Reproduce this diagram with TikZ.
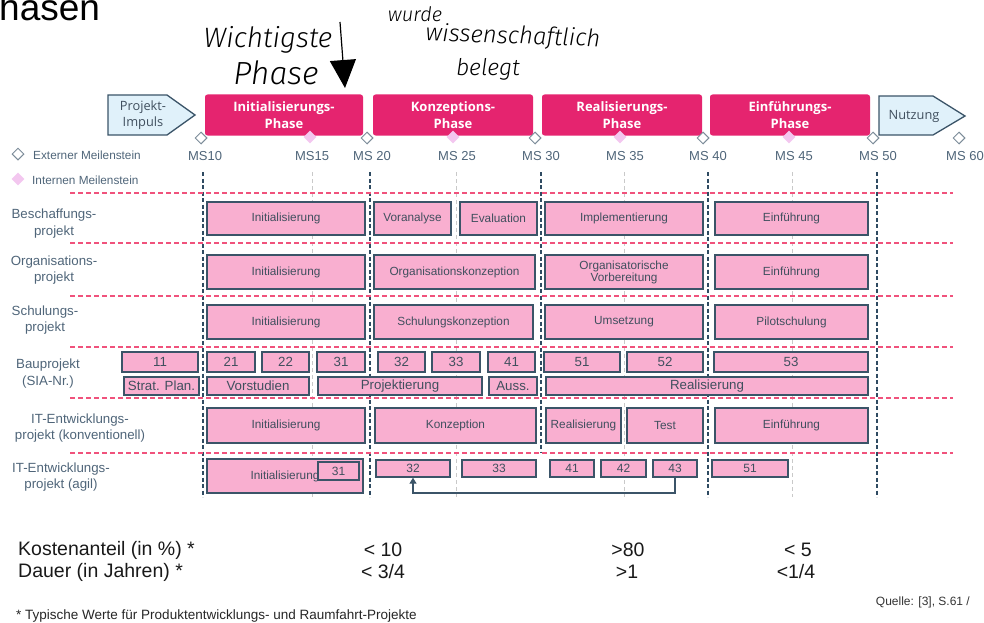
\documentclass[tikz,border=0pt]{standalone}
\usepackage{fontspec}
\setmainfont{Liberation Sans}
\newfontfamily\uifont{Open Sans}
\newfontfamily\handfont{Fira Sans Light}
\usetikzlibrary{shapes.geometric, arrows.meta, calc}

\definecolor{phasepink}{HTML}{E5246F}
\definecolor{boxpink}{HTML}{F9AFD0}
\definecolor{boxline}{HTML}{3B5468}
\definecolor{txt}{HTML}{404F5E}
\definecolor{lbl}{HTML}{4F6579}
\definecolor{rowline}{HTML}{F0527C}
\definecolor{msline}{HTML}{2F4B62}
\definecolor{msgrey}{HTML}{C9C9C9}
\definecolor{impulsfill}{HTML}{E0F1FA}
\definecolor{intms}{HTML}{F3C7EF}
\definecolor{extms}{HTML}{7C8C99}

% box given by its corners: [style] name x1 y1 x2 y2 text
\newcommand\pbox[7][]{%
  \node[box,#1,minimum width={(#5-#3)*1pt},minimum height={(#6-#4)*1pt}]
    (#2) at ({(#3+#5)/2},{(#4+#6)/2}) {#7};}

\tikzset{
  box/.style={draw=boxline, fill=boxpink, line width=1.4pt, inner sep=0.5pt,
    text=txt, align=center, font=\fontsize{11.8}{13}\selectfont},
  baubox/.style={font=\fontsize{13.3}{15}\selectfont},
  agilebox/.style={font=\fontsize{12}{14}\selectfont},
  phase/.style={fill=phasepink, rounded corners=2.5pt, text=white, align=center,
    font=\uifont\bfseries\fontsize{13}{17}\selectfont},
  impuls/.style={draw=boxline, fill=impulsfill, line width=1.3pt, line join=miter},
  uitext/.style={text=txt, align=center, inner sep=0, font=\uifont\fontsize{12.8}{16}\selectfont},
  extmile/.style={diamond, draw=extms, fill=white, line width=1pt, minimum size=12pt, inner sep=0},
  intmile/.style={diamond, fill=intms, minimum size=13pt, inner sep=0},
  mslabel/.style={text=lbl, inner sep=0, font=\fontsize{13}{15}\selectfont},
  legend/.style={text=lbl, inner sep=0, anchor=west, font=\fontsize{11.8}{14}\selectfont},
  rowlabel/.style={text=lbl, inner sep=0, align=center, font=\fontsize{13.3}{16.5}\selectfont},
  msdark/.style={draw=msline, line width=1.3pt, dash pattern=on 4pt off 2.5pt},
  mslight/.style={draw=msgrey, line width=1pt, dash pattern=on 4pt off 3pt},
  rowsep/.style={draw=rowline, line width=1.3pt, dash pattern=on 5pt off 3pt},
  conn/.style={draw=boxline, line width=1.3pt},
  figure/.style={text=black!90, inner sep=0, font=\fontsize{19.5}{22}\selectfont},
  hand/.style={text=black, inner sep=0, font=\handfont\itshape\fontsize{26}{28}\selectfont},
}

\begin{document}
\begin{tikzpicture}[x=1pt, y=-1pt]
\useasboundingbox (0,0) rectangle (984,623);

% title (cut at the page edge)
\node[anchor=base west, inner sep=0, font=\fontsize{37}{40}\selectfont] (title) at (-1,21) {hasen};

% handwritten notes
\node[hand, font=\handfont\itshape\fontsize{28}{30}\selectfont] (hw1) at (268,40) {Wichtigste};
\node[hand, font=\handfont\itshape\fontsize{32}{34}\selectfont] (hw2) at (276,73) {Phase};
\node[hand, font=\handfont\itshape\fontsize{20}{22}\selectfont] (hw3) at (415,14) {wurde};
\node[hand, font=\handfont\itshape\fontsize{24}{26}\selectfont, rotate=-2] (hw4) at (513,37) {wissenschaftlich};
\node[hand, font=\handfont\itshape\fontsize{23}{25}\selectfont] (hw5) at (488,69) {belegt};
\coordinate (hwtop) at (340,22);
\coordinate (hwtip) at (345,88);
\draw[line width=1.2pt, -{Triangle[width=26pt,length=28pt]}] (hwtop) -- (hwtip);

% milestone grid lines
\foreach \x in {203,370,708,877} \draw[msdark] (\x,172) -- (\x,497);
\draw[msdark] (541,172) -- (541,452);
\foreach \x in {312,456,624,792} \draw[mslight] (\x,172) -- (\x,497);

% row separators
\foreach \y in {193,243,296,347,398,453} \draw[rowsep] (70,\y) -- (953,\y);

% phase bar
\draw[impuls] (108,95) -- (167,95) -- (195,115) -- (167,135) -- (108,135) -- cycle;
\node[uitext] (impuls) at (143,115) {Projekt-\\Impuls};
\node[phase, minimum width=158pt, minimum height=41pt] (p1) at (284,115) {Initialisierungs-\\Phase};
\node[phase, minimum width=160pt, minimum height=41pt] (p2) at (453,115) {Konzeptions-\\Phase};
\node[phase, minimum width=160pt, minimum height=41pt] (p3) at (622,115) {Realisierungs-\\Phase};
\node[phase, minimum width=160pt, minimum height=41pt] (p4) at (790,115) {Einführungs-\\Phase};
\draw[impuls] (879,96) -- (933,96) -- (965,116) -- (933,135) -- (879,135) -- cycle;
\node[uitext] (nutzung) at (914,116) {Nutzung};

% milestones
\node[extmile] (m10) at (201,138) {};
\node[extmile] (m20) at (367,138) {};
\node[extmile] (m30) at (535,138) {};
\node[extmile] (m40) at (703,138) {};
\node[extmile] (m50) at (873,138) {};
\node[extmile] (m60) at (959,138) {};
\node[intmile] (m15) at (310,137) {};
\node[intmile] (m25) at (453,137) {};
\node[intmile] (m35) at (620,137) {};
\node[intmile] (m45) at (789,137) {};
\node[mslabel] (l10) at (205,156) {MS10};
\node[mslabel] (l15) at (312,156) {MS15};
\node[mslabel] (l20) at (372,156) {MS 20};
\node[mslabel] (l25) at (457,156) {MS 25};
\node[mslabel] (l30) at (541,156) {MS 30};
\node[mslabel] (l35) at (625,156) {MS 35};
\node[mslabel] (l40) at (708,156) {MS 40};
\node[mslabel] (l45) at (794,156) {MS 45};
\node[mslabel] (l50) at (878,156) {MS 50};
\node[mslabel] (l60) at (965,156) {MS 60};

% legend
\node[extmile] (lgext) at (18,154) {};
\node[legend] (lgexttxt) at (33,155) {Externer Meilenstein};
\node[intmile] (lgint) at (18,179) {};
\node[legend] (lginttxt) at (32,180) {Internen Meilenstein};

% row labels
\node[rowlabel] (r1) at (54,223.5) {Beschaffungs-\\projekt};
\node[rowlabel] (r2) at (54,270) {Organisations-\\projekt};
\node[rowlabel] (r3) at (45,320) {Schulungs-\\projekt};
\node[rowlabel] (r4) at (48,373.5) {Bauprojekt\\(SIA-Nr.)};
\node[rowlabel] (r5) at (80,428) {IT-Entwicklungs-\\projekt (konventionell)};
\node[rowlabel] (r6) at (61,477) {IT-Entwicklungs-\\projekt (agil)};

% Beschaffungsprojekt
\pbox{b1}{207}{202}{365}{235}{Initialisierung}
\pbox{b2}{374}{202}{451}{235}{Voranalyse}
\pbox{b3}{460}{202}{537}{235}{Evaluation}
\pbox{b4}{545}{202}{703}{235}{Implementierung}
\pbox{b5}{715}{202}{868}{235}{Einführung}

% Organisationsprojekt
\pbox{o1}{207}{255}{365}{289}{Initialisierung}
\pbox{o2}{374}{255}{535}{289}{Organisationskonzeption}
\pbox{o3}{545}{255}{703}{289}{Organisatorische\\[-1pt]Vorbereitung}
\pbox{o4}{715}{255}{868}{289}{Einführung}

% Schulungsprojekt
\pbox{s1}{207}{305}{365}{339}{Initialisierung}
\pbox{s2}{374}{305}{533}{339}{Schulungskonzeption}
\pbox{s3}{545}{305}{703}{339}{Umsetzung}
\pbox{s4}{715}{305}{868}{339}{Pilotschulung}

% Bauprojekt, SIA numbers
\pbox[baubox]{n11}{122}{352}{198}{372}{11}
\pbox[baubox]{n21}{207}{352}{255}{372}{21}
\pbox[baubox]{n22}{262}{352}{309}{372}{22}
\pbox[baubox]{n31}{317}{352}{365}{372}{31}
\pbox[baubox]{n32}{378}{352}{425}{372}{32}
\pbox[baubox]{n33}{432}{352}{480}{372}{33}
\pbox[baubox]{n41}{488}{352}{535}{372}{41}
\pbox[baubox]{n51}{544}{352}{620}{372}{51}
\pbox[baubox]{n52}{627}{352}{703}{372}{52}
\pbox[baubox]{n53}{714}{352}{868}{372}{53}
% Bauprojekt, phases
\pbox[baubox]{q1}{124}{377}{199}{395}{Strat. Plan.}
\pbox[baubox]{q2}{207}{377}{309}{395}{Vorstudien}
\pbox[baubox]{q3}{318}{377}{482}{395}{Projektierung}
\pbox[baubox]{q4}{489}{377}{537}{395}{Auss.}
\pbox[baubox]{q5}{546}{377}{868}{395}{Realisierung}

% IT-Entwicklungsprojekt (konventionell)
\pbox{k1}{207}{408}{365}{443}{Initialisierung}
\pbox{k2}{375}{408}{536}{443}{Konzeption}
\pbox{k3}{546}{408}{621}{443}{Realisierung}
\pbox{k4}{627}{408}{703}{443}{Test}
\pbox{k5}{715}{408}{868}{443}{Einführung}

% IT-Entwicklungsprojekt (agil)
\pbox{a1}{207}{459}{363}{493}{Initialisierung}
\pbox[agilebox]{a31}{318}{462}{359}{480}{31}
\pbox[agilebox]{a32}{376}{460}{450}{477}{32}
\pbox[agilebox]{a33}{462}{460}{536}{477}{33}
\pbox[agilebox]{a41}{550}{460}{594}{477}{41}
\pbox[agilebox]{a42}{601}{460}{646}{477}{42}
\pbox[agilebox]{a43}{653}{460}{697}{477}{43}
\pbox[agilebox]{a51}{712}{460}{788}{477}{51}
\coordinate (fb) at (413,493);
\draw[conn, -{Triangle[width=7pt,length=6pt]}] (a43.south) |- (fb) -- (fb |- a32.south);

% key figures
\node[figure, anchor=west] (kost) at (18,550) {Kostenanteil (in \%) *};
\node[figure] (kost1) at (383,550) {< 10};
\node[figure] (kost2) at (628,550) {>80};
\node[figure] (kost3) at (798,550) {< 5};
\node[figure, anchor=west] (dauer) at (18,572) {Dauer (in Jahren) *};
\node[figure] (dauer1) at (383,572) {< 3/4};
\node[figure] (dauer2) at (627,572) {>1};
\node[figure] (dauer3) at (796,572) {<1/4};
\node[inner sep=0, anchor=east, text=black!80, font=\fontsize{12}{14}\selectfont] (quelle) at (970,602) {Quelle: [3], S.61 /};
\node[inner sep=0, anchor=west, text=black!85, font=\fontsize{13.5}{15}\selectfont] (fn) at (16,616) {* Typische Werte für Produktentwicklungs- und Raumfahrt-Projekte};
\end{tikzpicture}
\end{document}
